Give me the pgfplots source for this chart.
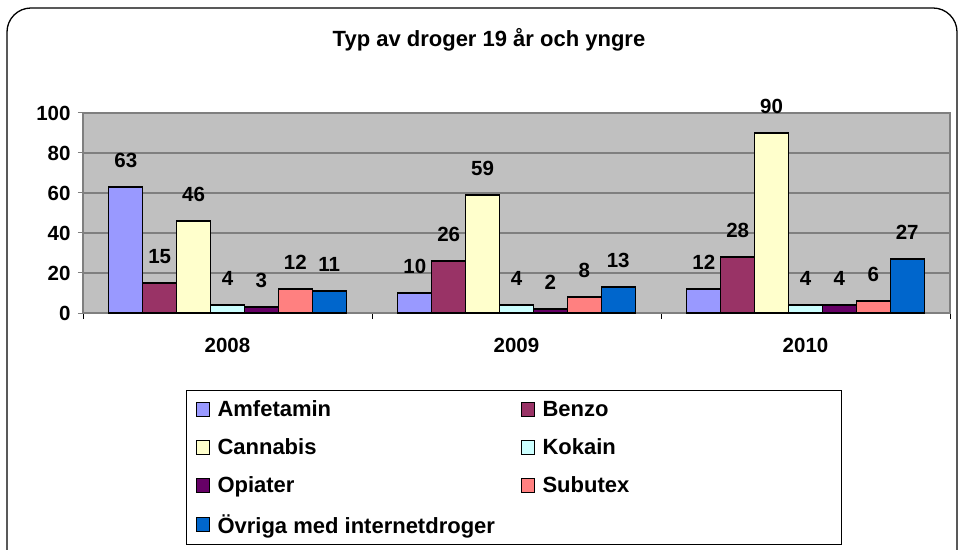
\documentclass[border=0pt]{standalone}
\usepackage{fontspec}
\setmainfont{Liberation Sans}
\usepackage{pgfplots}
\pgfplotsset{compat=1.18}
\definecolor{cA}{HTML}{9999FF}
\definecolor{cB}{HTML}{993366}
\definecolor{cC}{HTML}{FFFFCC}
\definecolor{cD}{HTML}{CCFFFF}
\definecolor{cE}{HTML}{660066}
\definecolor{cF}{HTML}{FF8080}
\definecolor{cG}{HTML}{0066CC}
\definecolor{plotbg}{HTML}{C0C0C0}
\definecolor{gridc}{HTML}{7F7F7F}
\newcommand{\la}[1]{\makebox[307pt][l]{\hspace{6pt}#1}}
\newcommand{\lb}[1]{\makebox[294pt][l]{\hspace{6pt}#1}}
\begin{document}
\begin{tikzpicture}[x=1pt,y=1pt]
\useasboundingbox (0,0) rectangle (961,549);
\draw[line width=1.3pt, rounded corners=24pt] (7,-40) rectangle (957,541);
\node[font=\fontsize{22}{26}\selectfont\bfseries] at (489,509) {Typ av droger 19 år och yngre};
\begin{axis}[
  at={(83pt,236pt)}, anchor=south west,
  scale only axis, width=867pt, height=200pt,
  xmin=-0.5, xmax=2.5, ymin=0, ymax=100,
  ybar=0pt, bar width=33.9pt,
  axis background/.style={fill=plotbg},
  axis line style={gridc, line width=1.2pt},
  ytick={0,20,40,60,80,100},
  ytick pos=left, xtick pos=bottom,
  tick align=outside,
  major tick length=5pt,
  ymajorgrids, grid style={gridc, line width=1.2pt},
  xtick={0,1,2}, xticklabels={2008,2009,2010},
  major x tick style={draw=none},
  minor xtick={-0.5,0.5,1.5,2.5},
  minor x tick style={black, line width=0.8pt},
  minor tick length=6pt,
  y tick style={gridc, line width=1pt},
  tick label style={font=\fontsize{20.5}{24}\selectfont\bfseries},
  /pgf/number format/assume math mode=true,
  xticklabel style={yshift=-17pt},
  yticklabel style={xshift=-4pt},
  nodes near coords,
  every node near coord/.append style={font=\fontsize{20.5}{24}\selectfont\bfseries, anchor=south, inner sep=0pt, yshift=19pt},
  every axis plot/.append style={draw=black, line width=1.2pt},
  legend columns=2,
  legend cell align=left,
  legend style={at={(0.1188,-0.385)}, anchor=north west, draw=black, line width=1pt,
    font=\fontsize{22}{26}\selectfont\bfseries, row sep=16.5pt, inner xsep=9pt, inner ysep=8pt},
  legend image code/.code={\draw[#1, line width=1pt] (0pt,-7pt) rectangle (13pt,7pt);},
]
\addplot[fill=cA] coordinates {(0,63) (1,10) (2,12)};
\addplot[fill=cB] coordinates {(0,15) (1,26) (2,28)};
\addplot[fill=cC] coordinates {(0,46) (1,59) (2,90)};
\addplot[fill=cD] coordinates {(0,4) (1,4) (2,4)};
\addplot[fill=cE] coordinates {(0,3) (1,2) (2,4)};
\addplot[fill=cF] coordinates {(0,12) (1,8) (2,6)};
\addplot[fill=cG] coordinates {(0,11) (1,13) (2,27)};
\addlegendentry{\la{Amfetamin}}
\addlegendentry{\lb{Benzo}}
\addlegendentry{\la{Cannabis}}
\addlegendentry{\lb{Kokain}}
\addlegendentry{\la{Opiater}}
\addlegendentry{\lb{Subutex}}
\addlegendentry{\la{Övriga med internetdroger}}
\end{axis}
\end{tikzpicture}
\end{document}
